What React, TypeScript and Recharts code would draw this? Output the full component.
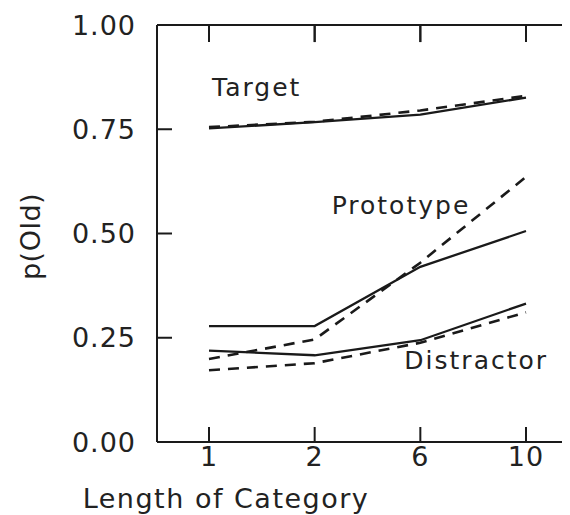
import React from "react";
import {
  LineChart,
  Line,
  XAxis,
  YAxis,
  ReferenceDot,
  ReferenceLine,
} from "recharts";

// category lengths on the x axis
const categories = ["1", "2", "6", "10"];
const yTicks = [0, 0.25, 0.5, 0.75, 1];

// observed (solid) and model (dashed) p(Old)
const targetObserved = [0.752, 0.767, 0.785, 0.826];
const targetModel = [0.755, 0.768, 0.795, 0.83];
const prototypeObserved = [0.278, 0.278, 0.42, 0.506];
const prototypeModel = [0.199, 0.246, 0.43, 0.636];
const distractorObserved = [0.219, 0.208, 0.244, 0.332];
const distractorModel = [0.172, 0.189, 0.238, 0.311];

const FONT = "'DejaVu Sans', sans-serif";
const INK = "#1a1a1a";

// layout: the frame runs past the right edge of the page, as in the scan
const CHART_W = 600;
const CHART_H = 507;
const MARGIN_RIGHT = 30;
const TOP_AXIS_H = 17;
const PLOT_TOP = TOP_AXIS_H;
const PLOT_RIGHT = CHART_W - MARGIN_RIGHT;
const TOP_TICK_LEN = 0.041; // inward tick on the top frame, in y units

const data = categories.map((c, i) => ({
  length: c,
  targetObs: targetObserved[i],
  targetMod: targetModel[i],
  protoObs: prototypeObserved[i],
  protoMod: prototypeModel[i],
  distObs: distractorObserved[i],
  distMod: distractorModel[i],
}));

const textProps = {
  fontFamily: FONT,
  fontSize: 27,
  fill: "#222",
  style: { letterSpacing: 1 },
};

// bottom tick label, plus the matching inward tick on the top frame
const XTick = (props: any) => (
  <g>
    <text x={props.x} y={props.y} dy='0.71em' textAnchor='middle' {...textProps}>
      {props.payload.value}
    </text>
    <line
      x1={props.x}
      x2={props.x}
      y1={PLOT_TOP}
      y2={PLOT_TOP + 17}
      stroke={INK}
      strokeWidth={2}
    />
  </g>
);

// left tick label, plus the matching inward tick on the right frame
const YTick = (props: any) => (
  <g>
    <text x={props.x} y={props.y} dy='0.355em' textAnchor='end' {...textProps}>
      {Number(props.payload.value).toFixed(2)}
    </text>
    <line
      x1={PLOT_RIGHT - 15}
      x2={PLOT_RIGHT}
      y1={props.y}
      y2={props.y}
      stroke={INK}
      strokeWidth={2}
    />
  </g>
);

// text tag placed next to a curve
const tag = (text: string, dx: number) => (props: any) => {
  const vb = props.viewBox || {};
  return (
    <text
      x={(vb.x ?? 0) + dx}
      y={vb.y ?? 0}
      fontFamily={FONT}
      fontSize={25}
      fill="#222"
      style={{ letterSpacing: 2 }}
    >
      {text}
    </text>
  );
};

const XTitle = (props: any) => {
  const vb = props.viewBox || {};
  return (
    <text
      x={(vb.x ?? 0) + 69}
      y={(vb.y ?? 0) + 66}
      textAnchor='middle'
      fontFamily={FONT}
      fontSize={27}
      fill="#222"
      style={{ letterSpacing: 1.5 }}
    >
      Length of Category
    </text>
  );
};

const YTitle = (props: any) => {
  const vb = props.viewBox || {};
  const cx = 23;
  const cy = (vb.y ?? 0) + (vb.height ?? 0) / 2 + 3;
  return (
    <text
      x={cx}
      y={cy}
      transform={`rotate(-90 ${cx} ${cy})`}
      textAnchor='middle'
      dy='0.35em'
      fontFamily={FONT}
      fontSize={27}
      fill="#222"
      style={{ letterSpacing: 0.5 }}
    >
      p(Old)
    </text>
  );
};

const solid = { stroke: INK, strokeWidth: 2.3, dot: false, isAnimationActive: false };
const dashed = {
  stroke: INK,
  strokeWidth: 2.6,
  strokeDasharray: "11 8",
  dot: false,
  isAnimationActive: false,
};

export default function App() {
  return (
    <div style={{ width: 562, height: CHART_H, overflow: "hidden", background: "#fff" }}>
      <LineChart
        width={CHART_W}
        height={CHART_H}
        data={data}
        margin={{ top: 0, right: MARGIN_RIGHT, bottom: 0, left: 0 }}
      >
        <XAxis
          dataKey='length'
          padding={{ left: 52, right: 52 }}
          height={73}
          axisLine={{ stroke: INK, strokeWidth: 2 }}
          tickLine={{ stroke: INK, strokeWidth: 2 }}
          tickSize={-15}
          tickMargin={20}
          tick={<XTick />}
          label={<XTitle />}
        />
        <XAxis
          xAxisId='top'
          orientation='top'
          dataKey='length'
          padding={{ left: 52, right: 52 }}
          height={TOP_AXIS_H}
          axisLine={{ stroke: INK, strokeWidth: 2 }}
          tickLine={false}
          tick={false}
        />
        <YAxis
          domain={[0, 1]}
          ticks={yTicks}
          width={149}
          axisLine={{ stroke: INK, strokeWidth: 2 }}
          tickLine={{ stroke: INK, strokeWidth: 2 }}
          tickSize={-15}
          tickMargin={36}
          tick={<YTick />}
          label={<YTitle />}
        />
        {categories.map((c) => (
          <ReferenceLine
            key={`top-${c}`}
            segment={[
              { x: c, y: 1 },
              { x: c, y: 1 - TOP_TICK_LEN },
            ]}
            stroke={INK}
            strokeWidth={2}
            ifOverflow='visible'
          />
        ))}
        <Line type='linear' dataKey='targetObs' {...solid} />
        <Line type='linear' dataKey='targetMod' {...dashed} />
        <Line type='linear' dataKey='protoObs' {...solid} />
        <Line type='linear' dataKey='protoMod' {...dashed} />
        <Line type='linear' dataKey='distObs' {...solid} />
        <Line type='linear' dataKey='distMod' {...dashed} />
        <ReferenceDot x='1' y={0.83} r={0} fill='none' stroke='none' label={tag("Target", 3)} />
        <ReferenceDot x='2' y={0.546} r={0} fill='none' stroke='none' label={tag("Prototype", 17)} />
        <ReferenceDot x='6' y={0.175} r={0} fill='none' stroke='none' label={tag("Distractor", -16)} />
      </LineChart>
    </div>
  );
}
